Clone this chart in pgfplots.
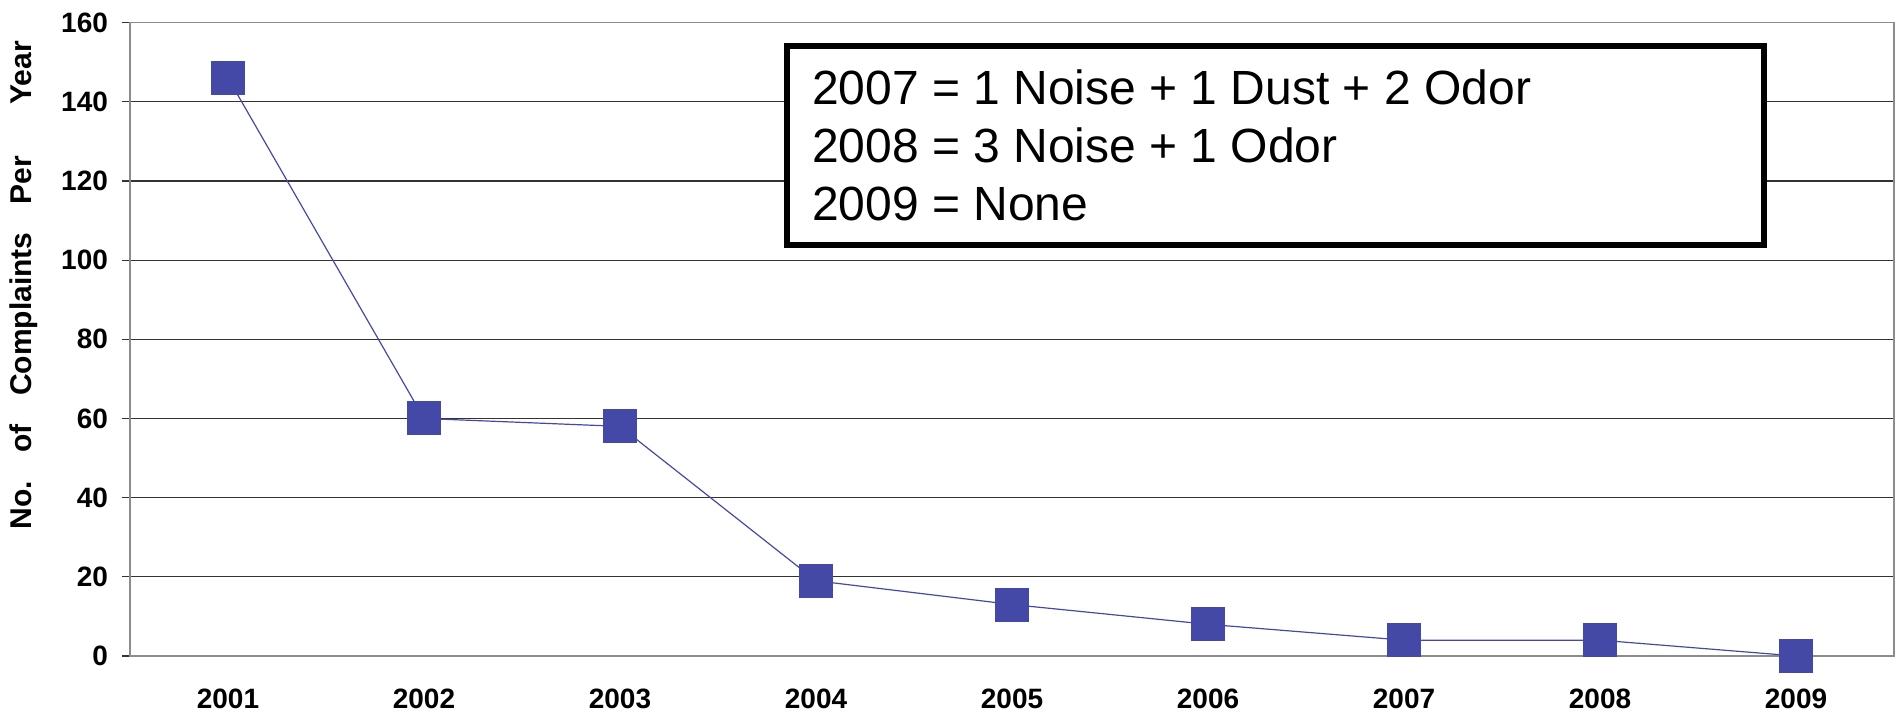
\documentclass[border=0pt]{standalone}
\usepackage{fontspec}
\setmainfont{Liberation Sans}
\usepackage{pgfplots}
\pgfplotsset{compat=1.18}
\definecolor{ser}{RGB}{68,73,168}
\begin{document}
\begin{tikzpicture}
\path[use as bounding box] (-65pt,-29.5pt) rectangle (884pt,328pt);
\begin{axis}[
  scale only axis,
  width=882pt, height=316.7pt,
  anchor=south west, at={(0,0)},
  xmin=0.5, xmax=9.5, ymin=0, ymax=160,
  xtick={1,...,9},
  xticklabels={2001,2002,2003,2004,2005,2006,2007,2008,2009},
  minor xtick={0.5,1.5,...,9.5},
  ytick={0,20,...,160},
  tick align=outside,
  xtick pos=bottom, ytick pos=left,
  major tick length=4pt, minor tick length=4pt,
  xtick style={draw=none},
  minor tick style={black!80, line width=0.6pt},
  ytick style={black!80, line width=0.6pt},
  ymajorgrids,
  grid style={black!80, line width=0.6pt},
  axis line style={black!45, line width=0.6pt},
  tick label style={font=\fontsize{14}{15}\selectfont\bfseries},
  /pgf/number format/assume math mode=true,
  xticklabel style={yshift=-9pt},
  yticklabel style={xshift=-3.5pt},
  ylabel={No.\hspace{0.95em}of\hspace{0.95em}Complaints\hspace{0.95em}Per\hspace{1.7em}Year},
  ylabel style={font=\fontsize{15}{16}\selectfont\bfseries, at={(axis description cs:0,0.585)}, anchor=center, yshift=53pt},
  clip=false,
]
\addplot[color=ser, line width=0.6pt, mark=square*, mark size=8.25pt, mark options={fill=ser, draw=ser, line width=0pt}]
  coordinates {(1,146) (2,60) (3,58) (4,19) (5,13) (6,8) (7,4) (8,4) (9,0)};
\draw[line width=3pt, fill=white] (axis cs:3.852,154.1) rectangle (axis cs:8.837,103.8);
\node[anchor=base west, inner sep=0pt, font=\fontsize{24}{25}\selectfont] at (axis cs:3.978,139.2) {2007 = 1 Noise + 1 Dust + 2 Odor};
\node[anchor=base west, inner sep=0pt, font=\fontsize{24}{25}\selectfont] at (axis cs:3.978,124.6) {2008 = 3 Noise + 1 Odor};
\node[anchor=base west, inner sep=0pt, font=\fontsize{24}{25}\selectfont] at (axis cs:3.978,109.9) {2009 = None};
\end{axis}
\end{tikzpicture}
\end{document}
